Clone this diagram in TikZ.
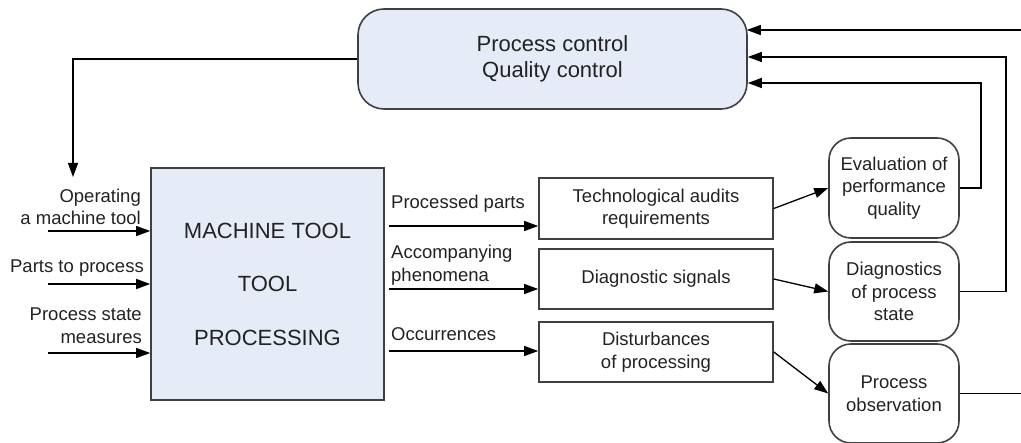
\documentclass[tikz,border=0pt]{standalone}
\usepackage{fontspec}
\setmainfont{Liberation Sans}
\usetikzlibrary{arrows.meta,calc}
\definecolor{boxfill}{HTML}{E5ECF7}
\definecolor{edgecol}{HTML}{404040}
\definecolor{txt}{HTML}{222222}
\begin{document}
\begin{tikzpicture}[x=1pt,y=-1pt,
  font=\fontsize{18.5}{22.5}\selectfont, text=txt,
  box/.style={draw=edgecol, line width=1.6pt, inner sep=0pt, align=center},
  filledbox/.style={box, fill=boxfill},
  rbox/.style={box, rounded corners=22pt},
  conn/.style={line width=1.3pt, -{Triangle[length=14pt,width=10pt]}},
  plain/.style={line width=1.3pt},
  lbl/.style={inner sep=0pt, align=right, anchor=east},
  rlbl/.style={inner sep=0pt, align=left, anchor=west}]
\useasboundingbox (0,0) rectangle (1021,443);

% top control box
\node[filledbox, rounded corners=26pt, minimum width=389pt, minimum height=100pt,
      font=\fontsize{22}{26}\selectfont] (ctrl) at (552.5,59)
      {Process control\\Quality control};

% machine tool box
\node[filledbox, minimum width=233pt, minimum height=232pt,
      font=\fontsize{22}{53.5}\selectfont] (mt) at (267.5,284)
      {MACHINE TOOL\\TOOL\\PROCESSING};

% middle boxes
\node[box, minimum width=234pt, minimum height=61pt] (b1) at (656,208.5)
      {Technological audits\\requirements};
\node[box, minimum width=234pt, minimum height=60pt] (b2) at (656,279)
      {Diagnostic signals};
\node[box, minimum width=234pt, minimum height=60pt] (b3) at (656,352)
      {Disturbances\\of processing};

% right rounded boxes
\node[rbox, minimum width=130pt, minimum height=100pt] (ev) at (894,188)
      {Evaluation of\\performance\\quality};
\node[rbox, minimum width=130pt, minimum height=99pt] (dg) at (894,291.5)
      {Diagnostics\\of process\\state};
\node[rbox, minimum width=130pt, minimum height=99pt] (ob) at (894,393.5)
      {Process\\observation};

% input labels and arrows
\node[lbl] (l1) at (141,207) {Operating\\a machine tool};
\node[lbl] (l2) at (144,268) {Parts to process};
\node[lbl] (l3) at (142,325.5) {Process state\\measures};
\coordinate (i1) at (48,231);
\coordinate (i2) at (48,284);
\coordinate (i3) at (48,353);
\draw[conn] (i1) -- (mt.west |- i1);
\draw[conn] (i2) -- (mt.west |- i2);
\draw[conn] (i3) -- (mt.west |- i3);

% feedback to machine tool
\coordinate (fb) at (73,177);
\draw[conn] (ctrl.west) -| (fb);

% output labels and lines
\node[rlbl] (o1) at (391,204) {Processed parts};
\node[rlbl] (o2) at (391,265) {Accompanying\\phenomena};
\node[rlbl] (o3) at (391,334) {Occurrences};
\coordinate (s1) at (389,226);
\coordinate (s2) at (389,289);
\coordinate (s3) at (389,351);
\draw[conn] (s1) -- (b1.west |- s1);
\draw[conn] (s2) -- (b2.west |- s2);
\draw[conn] (s3) -- (b3.west |- s3);

% middle to right boxes
\draw[conn] (b1.east) -- (ev.west);
\draw[conn] (b2.east) -- (dg.west);
\draw[conn] (b3.east) -- (ob.west);

% feedback lines to control box
\coordinate (r1) at (1021,30);
\coordinate (r2) at (1006,57);
\coordinate (r3) at (981,83);
\coordinate (re) at (1021,393.5);
\draw[conn] (r1) -- ($(ctrl.east |- r1)+(-1,0)$);
\draw[conn] (dg.east) -| (r2) -- (ctrl.east |- r2);
\draw[conn] (ev.east) -| (r3) -- (ctrl.east |- r3);
\draw[plain] (ob.east) -- (re);
\end{tikzpicture}
\end{document}
